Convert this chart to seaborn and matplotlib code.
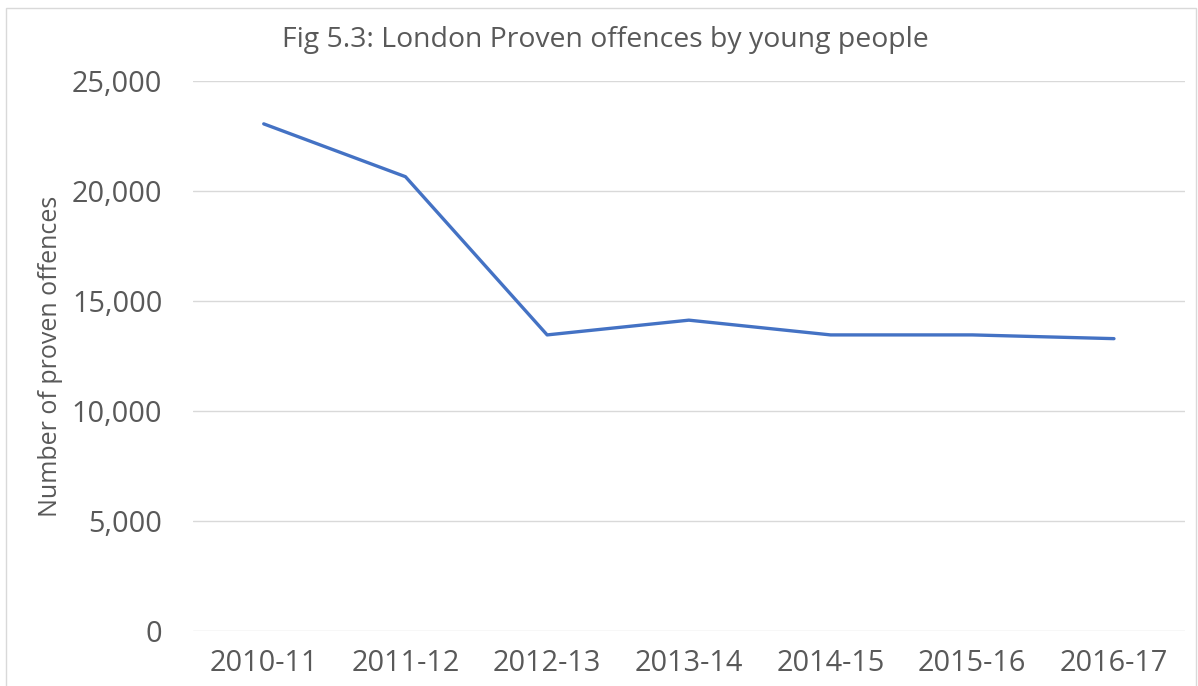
import seaborn as sns
import matplotlib.pyplot as plt
import matplotlib.patches as mpatches
from matplotlib.ticker import FuncFormatter
import pandas as pd

# values
years = ['2010-11', '2011-12', '2012-13', '2013-14', '2014-15', '2015-16', '2016-17']
offences = [23050, 20650, 13460, 14130, 13460, 13460, 13290]

data = pd.DataFrame({'Year': years, 'Offences': offences})

sns.set_style('white')
plt.rcParams['font.family'] = ['Open Sans', 'DejaVu Sans']

fig = plt.figure(figsize=(11.98, 6.86), dpi=100)
ax = fig.add_axes([0.161, 0.080, 0.828, 0.802])

sns.lineplot(data=data, x='Year', y='Offences', color='#4472C4', linewidth=2.4,
             sort=False, ax=ax)

ax.set_xlim(-0.5, len(years) - 0.5)
ax.set_ylim(0, 25000)
ax.set_yticks(range(0, 25001, 5000))
ax.yaxis.set_major_formatter(FuncFormatter(lambda v, p: f'{int(v):,}'))
ax.grid(axis='y', color='#D9D9D9', linewidth=1)
ax.set_axisbelow(True)
for s in ax.spines.values():
    s.set_visible(False)

ax.tick_params(axis='both', length=0, labelsize=20.8, colors='#595959')
ax.tick_params(axis='y', pad=22)
ax.tick_params(axis='x', pad=13)

ax.set_xlabel('')
ax.set_ylabel('Number of proven offences', fontsize=18, color='#595959', labelpad=6)

fig.text(0.505, 0.942, 'Fig 5.3: London Proven offences by young people',
         ha='center', va='center', fontsize=20.4, color='#595959')

# light chart border like the spreadsheet frame
fig.patches.append(mpatches.Rectangle((0.005, -0.01), 0.993, 0.998, transform=fig.transFigure,
                                      fill=False, edgecolor='#D9D9D9', linewidth=1))

fig.savefig('out.png', dpi=100, facecolor='white')
